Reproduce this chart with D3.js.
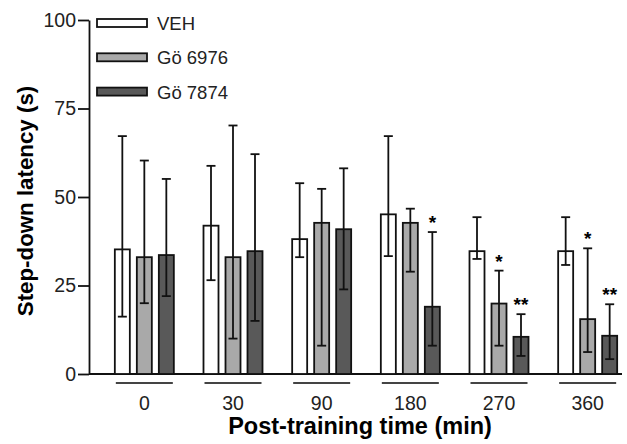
<!DOCTYPE html>
<html>
<head>
<meta charset="utf-8">
<script src="https://cdn.jsdelivr.net/npm/d3@7"></script>
<style>
  body { margin: 0; background: #fff; }
  svg text { font-family: "Liberation Sans", Arial, sans-serif; }
</style>
</head>
<body>
<div class="content"></div>
<script>
// data
var groups = ['0', '30', '90', '180', '270', '360'];
var series = ['VEH', 'Gö 6976', 'Gö 7874'];
var colors = ['#ffffff', '#a9a9a9', '#595959'];
var means = [
  [35.2, 41.9, 38.1, 45.1, 34.7, 34.7],
  [33.0, 33.0, 42.7, 42.7, 19.9, 15.5],
  [33.6, 34.7, 40.9, 19.0, 10.5, 10.8]
];
var errHigh = [
  [67.2, 58.8, 53.9, 67.2, 44.3, 44.3],
  [60.3, 70.2, 52.3, 46.7, 29.2, 35.5],
  [55.1, 62.1, 58.1, 40.1, 16.9, 19.7]
];
var errLow = [
  [16.2, 26.5, 33.0, 33.3, 32.5, 30.8],
  [20.0, 10.0, 8.0, 28.9, 8.0, 6.2],
  [22.0, 15.0, 23.9, 8.0, 5.1, 4.2]
];
var stars = [
  ['', '', '', '', '', ''],
  ['', '', '', '', '*', '*'],
  ['', '', '', '*', '**', '**']
];
var yTicks = [0, 25, 50, 75, 100];

var svg = d3.select('.content').append('svg')
  .attr('width', 627)
  .attr('height', 444);

var y = d3.scaleLinear().domain([0, 100]).range([374, 20]);
var x0 = d3.scaleBand().domain(groups).range([100, 632]);
var x1 = d3.scaleBand().domain(series).range([-33, 33])
  .paddingInner(7 / 22).paddingOuter(0.159);

// y axis
var yAxis = svg.append('g')
  .attr('transform', 'translate(89,0)')
  .call(d3.axisLeft(y).tickValues(yTicks).tickSize(11).tickSizeOuter(0).tickPadding(2));
yAxis.select('.domain').attr('stroke', '#111').attr('stroke-width', 1.8);
yAxis.selectAll('.tick line').attr('stroke', '#111').attr('stroke-width', 1.8);
yAxis.selectAll('.tick text').attr('font-size', 19.5).attr('fill', '#222');

// x axis baseline
svg.append('line')
  .attr('x1', 89).attr('x2', 622)
  .attr('y1', y(0)).attr('y2', y(0))
  .attr('stroke', '#111').attr('stroke-width', 1.8);

// group labels and underlines
var xAxis = svg.append('g')
  .attr('transform', 'translate(0,' + (y(0) + 9) + ')')
  .call(d3.axisBottom(x0).tickSize(0).tickPadding(13));
xAxis.select('.domain').remove();
xAxis.selectAll('.tick text').attr('font-size', 19.5).attr('fill', '#222');

svg.append('g').selectAll('line')
  .data(groups)
  .join('line')
  .attr('x1', function(d) { return x0(d) + x0.bandwidth() / 2 + x1(series[0]) + 1; })
  .attr('x2', function(d) { return x0(d) + x0.bandwidth() / 2 + x1(series[2]) + x1.bandwidth() - 1; })
  .attr('y1', y(0) + 9).attr('y2', y(0) + 9)
  .attr('stroke', '#444').attr('stroke-width', 1.8);

// bars
var cells = [];
series.forEach(function(s, i) {
  groups.forEach(function(g, j) {
    cells.push({ s: s, i: i, g: g, v: means[i][j], hi: errHigh[i][j], lo: errLow[i][j], star: stars[i][j] });
  });
});
function cx(d) { return x0(d.g) + x0.bandwidth() / 2 + x1(d.s) + x1.bandwidth() / 2; }

svg.append('g').selectAll('rect')
  .data(cells)
  .join('rect')
  .attr('x', function(d) { return cx(d) - x1.bandwidth() / 2; })
  .attr('y', function(d) { return y(d.v); })
  .attr('width', x1.bandwidth())
  .attr('height', function(d) { return y(0) - y(d.v); })
  .attr('fill', function(d) { return colors[d.i]; })
  .attr('stroke', '#111').attr('stroke-width', 1.8);

// error bars
var err = svg.append('g').attr('stroke', '#111').attr('stroke-width', 1.8);
err.selectAll('.ev').data(cells).join('line').attr('class', 'ev')
  .attr('x1', cx).attr('x2', cx)
  .attr('y1', function(d) { return y(d.lo); })
  .attr('y2', function(d) { return y(d.hi); });
err.selectAll('.eh').data(cells).join('line').attr('class', 'eh')
  .attr('x1', function(d) { return cx(d) - 4.5; }).attr('x2', function(d) { return cx(d) + 4.5; })
  .attr('y1', function(d) { return y(d.hi); }).attr('y2', function(d) { return y(d.hi); });
err.selectAll('.el').data(cells).join('line').attr('class', 'el')
  .attr('x1', function(d) { return cx(d) - 4.5; }).attr('x2', function(d) { return cx(d) + 4.5; })
  .attr('y1', function(d) { return y(d.lo); }).attr('y2', function(d) { return y(d.lo); });

// significance stars
svg.append('g').selectAll('text')
  .data(cells.filter(function(d) { return d.star; }))
  .join('text')
  .attr('x', cx)
  .attr('y', function(d) { return y(d.hi) - 3; })
  .attr('text-anchor', 'middle')
  .attr('font-size', 19).attr('font-weight', 'bold')
  .text(function(d) { return d.star; });

// legend
var legend = svg.append('g').selectAll('g')
  .data(series)
  .join('g')
  .attr('transform', function(d, i) { return 'translate(97,' + (19 + i * 34.3) + ')'; });
legend.append('rect')
  .attr('width', 50).attr('height', 8)
  .attr('fill', function(d, i) { return colors[i]; })
  .attr('stroke', '#111').attr('stroke-width', 1.8);
legend.append('text')
  .attr('x', 60).attr('y', 11)
  .attr('font-size', 18.5).attr('fill', '#222')
  .text(function(d) { return d; });

// axis titles
svg.append('text')
  .attr('x', 360).attr('y', 434)
  .attr('text-anchor', 'middle')
  .attr('font-size', 23.5).attr('font-weight', 'bold')
  .text('Post-training time (min)');
svg.append('text')
  .attr('transform', 'translate(33,201) rotate(-90)')
  .attr('text-anchor', 'middle')
  .attr('font-size', 22.3).attr('font-weight', 'bold')
  .text('Step-down latency (s)');
</script>
</body>
</html>
